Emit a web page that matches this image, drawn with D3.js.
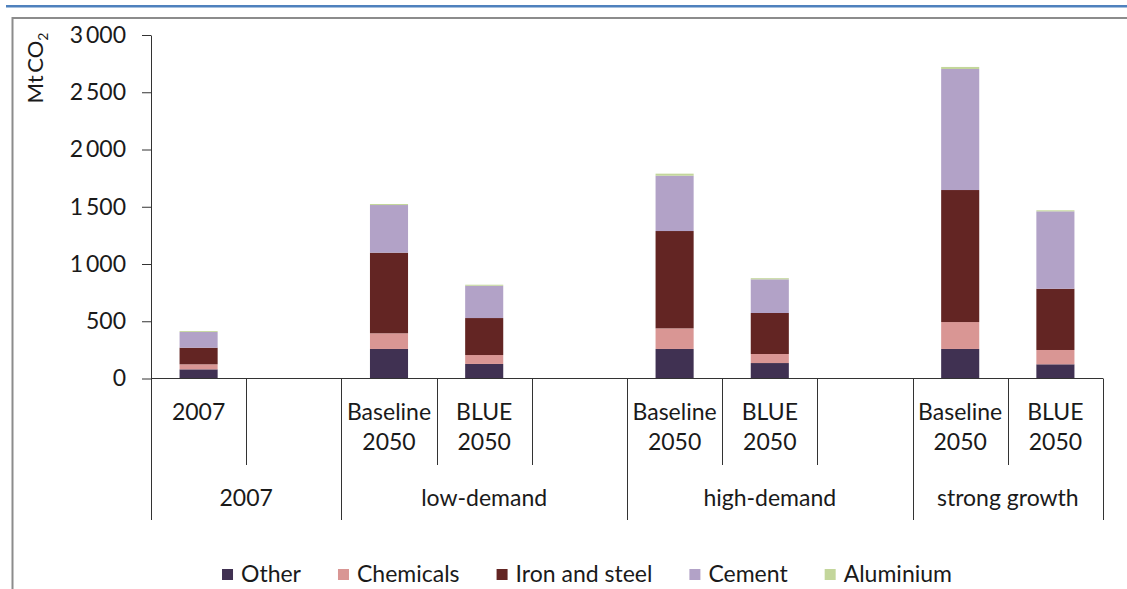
<!DOCTYPE html>
<html>
<head>
<meta charset="utf-8">
<script src="https://cdn.jsdelivr.net/npm/d3@7"></script>
<style>
  html, body { margin: 0; padding: 0; background: #fff; }
  svg { display: block; font-family: Lato, "Open Sans", sans-serif; }
</style>
</head>
<body>
<div class="chart"></div>
<script>
// Slots along the x axis (Excel multi-level category axis); empty arrays are spacer slots.
const slotLabels = [["2007"], [], ["Baseline", "2050"], ["BLUE", "2050"], [],
                    ["Baseline", "2050"], ["BLUE", "2050"], [],
                    ["Baseline", "2050"], ["BLUE", "2050"]];
const groups = ["2007", "low-demand", "high-demand", "strong growth"];
const groupSizes = [2, 3, 3, 2];

const sectors = ["Other", "Chemicals", "Iron and steel", "Cement", "Aluminium"];
const other     = [80, 0, 258, 127, 0, 258, 135, 0, 258, 124];
const chemicals = [44, 0, 137, 78, 0, 180, 79, 0, 235, 125];
const ironSteel = [145, 0, 704, 323, 0, 850, 358, 0, 1153, 535];
const cement    = [137, 0, 416, 282, 0, 483, 294, 0, 1057, 676];
const aluminium = [8, 0, 9, 9, 0, 18, 10, 0, 18, 9];
const colors = ["#403152", "#d99694", "#632523", "#b2a2c7", "#c3d69b"];

const yTicks = [0, 500, 1000, 1500, 2000, 2500, 3000];

const W = 1127, H = 589;
const plot = { left: 151, right: 1103, top: 35, bottom: 378.5 };
const fontSize = 23, textCol = "#1a1a1a", axisCol = "#333";

const svg = d3.select(".chart").append("svg")
    .attr("width", W)
    .attr("height", H);

// Page decoration: blue rule and chart frame.
svg.append("rect").attr("x", 6).attr("y", 5).attr("width", W - 6).attr("height", 2.5).attr("fill", "#4f81bd");
svg.append("path")
    .attr("d", `M12.5,${H + 5}V18H${W + 5}`)
    .attr("fill", "none").attr("stroke", "#8c8c8c").attr("stroke-width", 2);

const table = other.map((d, i) => ({
  slot: i,
  Other: other[i], Chemicals: chemicals[i], "Iron and steel": ironSteel[i],
  Cement: cement[i], Aluminium: aluminium[i]
}));

const x = d3.scaleBand()
    .domain(d3.range(slotLabels.length))
    .range([plot.left, plot.right])
    .padding(0);
const y = d3.scaleLinear()
    .domain([0, 3000])
    .range([plot.bottom, plot.top]);
const color = d3.scaleOrdinal().domain(sectors).range(colors);

const barW = x.bandwidth() * 0.4;
const stack = d3.stack().keys(sectors)(table);

svg.append("g")
  .selectAll("g")
  .data(stack)
  .join("g")
    .attr("fill", d => color(d.key))
  .selectAll("rect")
  .data(d => d.filter(p => p[1] > p[0]))
  .join("rect")
    .attr("x", d => x(d.data.slot) + (x.bandwidth() - barW) / 2)
    .attr("width", barW)
    .attr("y", d => y(d[1]))
    .attr("height", d => y(d[0]) - y(d[1]));

// Y axis.
const yAxis = svg.append("g")
    .attr("transform", `translate(${plot.left},0)`)
    .call(d3.axisLeft(y)
      .tickValues(yTicks)
      .tickSize(9)
      .tickSizeOuter(0)
      .tickPadding(16)
      .tickFormat(d => d3.format(",")(d).replace(",", "\u2009")));
yAxis.select(".domain").attr("stroke", axisCol);
yAxis.selectAll(".tick line").attr("stroke", axisCol);
yAxis.selectAll("text")
    .attr("font-size", fontSize)
    .attr("font-family", "Lato, sans-serif")
    .attr("fill", textCol);

svg.append("text")
    .attr("transform", `translate(43,68) rotate(-90)`)
    .attr("text-anchor", "middle")
    .attr("font-size", 22)
    .attr("fill", textCol)
    .text("Mt\u2009CO")
  .append("tspan")
    .attr("font-size", 14)
    .attr("dy", 5)
    .text("2");

// X axis line and multi-level category separators.
svg.append("line")
    .attr("x1", plot.left).attr("x2", plot.right)
    .attr("y1", plot.bottom).attr("y2", plot.bottom)
    .attr("stroke", axisCol);

const groupStarts = d3.cumsum([0, ...groupSizes]);
const level1Bottom = 465, level2Bottom = 520;
svg.append("g")
  .selectAll("line")
  .data(d3.range(slotLabels.length + 1))
  .join("line")
    .attr("x1", i => Math.round(plot.left + i * x.step()) + 0.5)
    .attr("x2", i => Math.round(plot.left + i * x.step()) + 0.5)
    .attr("y1", plot.bottom)
    .attr("y2", i => groupStarts.includes(i) ? level2Bottom : level1Bottom)
    .attr("stroke", axisCol);

const lvl1 = svg.append("g")
  .selectAll("text")
  .data(slotLabels)
  .join("text")
    .attr("x", (d, i) => x(i) + x.bandwidth() / 2)
    .attr("text-anchor", "middle")
    .attr("font-size", fontSize)
    .attr("fill", textCol);
lvl1.selectAll("tspan")
  .data(d => d)
  .join("tspan")
    .attr("x", function() { return this.parentNode.getAttribute("x"); })
    .attr("y", (d, j) => 420 + j * 30)
    .text(d => d);

svg.append("g")
  .selectAll("text")
  .data(groups)
  .join("text")
    .attr("x", (d, i) => plot.left + (groupStarts[i] + groupSizes[i] / 2) * x.step())
    .attr("y", 506)
    .attr("text-anchor", "middle")
    .attr("font-size", fontSize)
    .attr("fill", textCol)
    .text(d => d);

// Legend.
const legend = svg.append("g").attr("transform", "translate(0,574)");
const items = legend.selectAll("g")
  .data(sectors)
  .join("g");
items.append("rect")
    .attr("width", 11).attr("height", 11)
    .attr("y", -5)
    .attr("fill", d => color(d));
items.append("text")
    .attr("x", 19)
    .attr("y", 8)
    .attr("font-size", fontSize)
    .attr("fill", textCol)
    .text(d => d);

const gap = 37;
let cursor = 0;
items.each(function() {
  const g = d3.select(this);
  g.attr("data-x", cursor);
  cursor += 19 + g.select("text").node().getComputedTextLength() + gap;
});
const total = cursor - gap;
const startX = 587 - total / 2;
items.attr("transform", function() { return `translate(${startX + +this.getAttribute("data-x")},0)`; });
</script>
</body>
</html>
